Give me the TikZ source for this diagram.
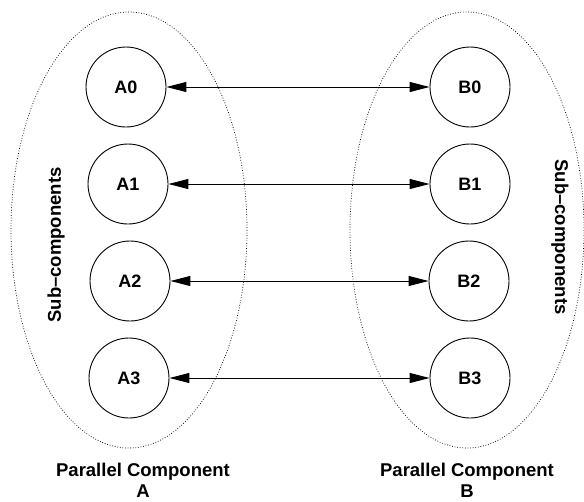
\documentclass[tikz,border=0pt]{standalone}
\usepackage{fontspec}
\setmainfont{Liberation Sans}
\usetikzlibrary{arrows.meta}
\begin{document}
\begin{tikzpicture}[x=1pt,y=-1pt,
  comp/.style={circle,draw,line width=0.9pt,minimum size=80pt,inner sep=0pt,
    font=\fontsize{18}{21}\selectfont\bfseries},
  group/.style={draw,line width=0.7pt,dash pattern=on 0.8pt off 1.8pt},
  link/.style={line width=1pt,{Triangle[length=20pt,width=10pt]}-{Triangle[length=20pt,width=10pt]}},
  lbl/.style={font=\fontsize{18.5}{21.5}\selectfont\bfseries,align=center,inner sep=0pt}]
\useasboundingbox (0,0) rectangle (584,501);
% enclosing groups
\draw[group] (129,230) ellipse [x radius=118, y radius=218];
\draw[group] (467,230) ellipse [x radius=117, y radius=218];
% sub-components
\node[comp] (a0) at (126,87) {A0};
\node[comp] (a1) at (128,184) {A1};
\node[comp] (a2) at (130,281) {A2};
\node[comp] (a3) at (129,378) {A3};
\node[comp] (b0) at (470,87) {B0};
\node[comp] (b1) at (470,184) {B1};
\node[comp] (b2) at (469,281) {B2};
\node[comp] (b3) at (470,378) {B3};
% links
\draw[link] (a0) -- (b0);
\draw[link] (a1) -- (b1);
\draw[link] (a2) -- (b2);
\draw[link] (a3) -- (b3);
% labels
\node[lbl,rotate=90] (sa) at (56,245) {Sub–components};
\node[lbl,rotate=-90] (sb) at (560,237) {Sub–components};
\node[lbl] (pa) at (143,480.5) {Parallel Component\\A};
\node[lbl] (pb) at (467,480.5) {Parallel Component\\B};
\end{tikzpicture}
\end{document}
